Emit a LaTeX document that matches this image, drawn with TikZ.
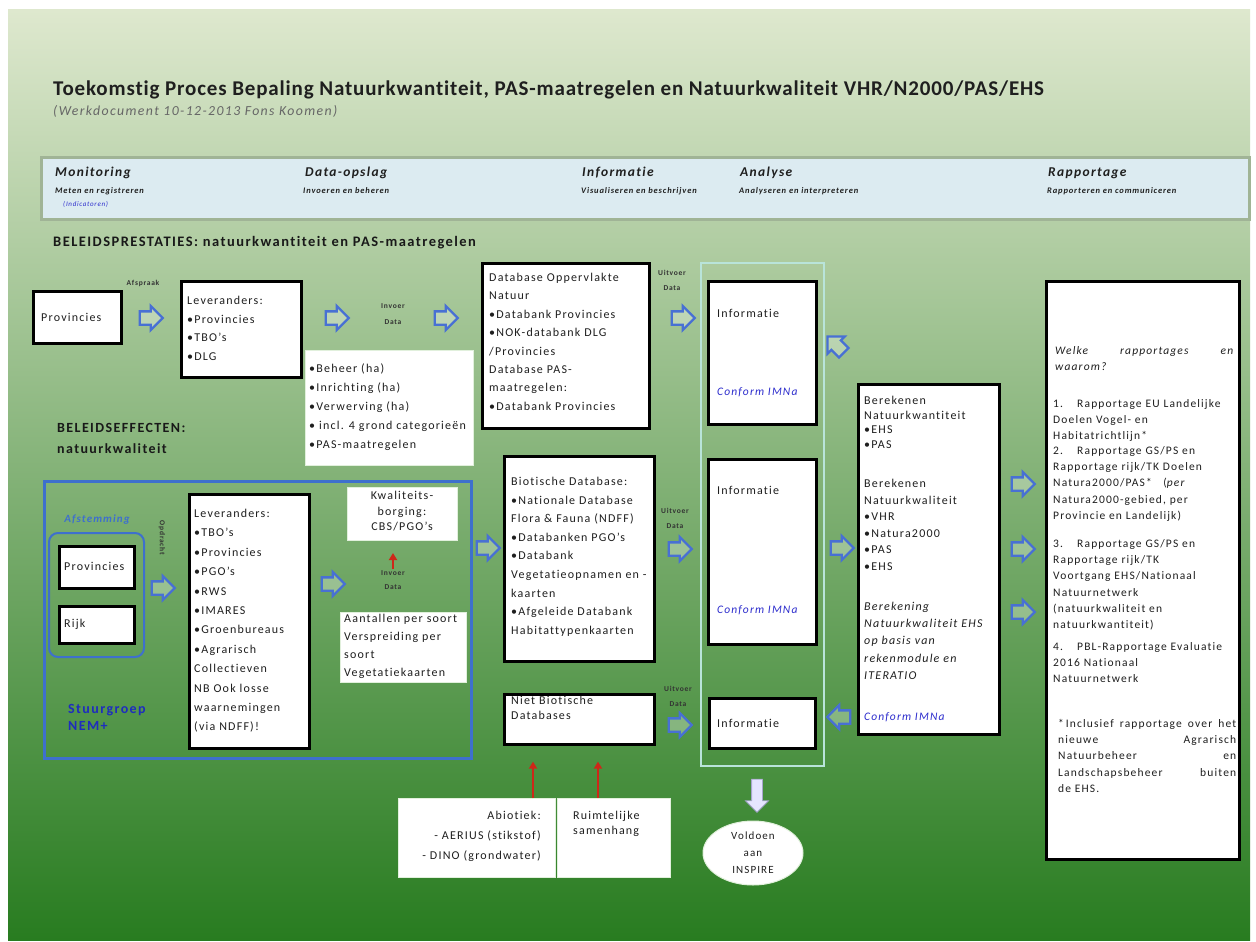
\documentclass[tikz,border=0pt]{standalone}
\usepackage{fontspec}
\setmainfont{Carlito}[LetterSpace=10,Ligatures=NoCommon]
\newfontfamily\titlefont{Carlito}[LetterSpace=4,Ligatures=NoCommon]
\usetikzlibrary{shapes.arrows,shapes.geometric,arrows.meta,calc}
\definecolor{bgtop}{RGB}{222,232,206}
\definecolor{bgmid}{RGB}{142,182,98}
\definecolor{bgbot}{RGB}{40,124,32}
\definecolor{hdrfill}{RGB}{220,235,241}
\definecolor{hdrdraw}{RGB}{160,180,150}
\definecolor{arblue}{RGB}{72,112,212}
\definecolor{frameblue}{RGB}{62,112,205}
\definecolor{confblue}{RGB}{45,45,205}
\definecolor{stblue}{RGB}{30,45,190}
\definecolor{colframe}{RGB}{185,228,218}
\definecolor{redar}{RGB}{205,40,25}
\definecolor{pale}{RGB}{225,240,220}
\begin{document}
\begin{tikzpicture}[x=1pt,y=-1pt,
  box/.style={draw=black, line width=2.6pt, fill=white, anchor=north west, inner sep=0pt},
  wbox/.style={draw=pale, line width=1pt, fill=white, anchor=north west, inner sep=0pt},
  txt/.style={anchor=north west, align=left, inner sep=0pt, text=black!88, font=\fontsize{12}{19}\selectfont},
  conf/.style={anchor=west, inner sep=0pt, text=confblue, font=\itshape\fontsize{11.5}{14}\selectfont},
  lbl/.style={inner sep=0pt, align=center, text=black!80, font=\bfseries\fontsize{7.5}{15}\selectfont},
  hd/.style={anchor=west, inner sep=0pt, text=black!88, font=\bfseries\itshape\fontsize{13.5}{15}\selectfont},
  hs/.style={anchor=west, inner sep=0pt, text=black!88, font=\bfseries\itshape\fontsize{8.5}{10}\selectfont},
  barrow/.style={single arrow, draw=arblue, line width=2.3pt, fill=white, fill opacity=0.3, draw opacity=1, inner sep=5.5pt, minimum height=23pt, single arrow head extend=5.5pt},
  darrow/.style={single arrow, draw=white!75!blue!60!gray, fill=white!90!blue, line width=0.8pt, inner sep=5pt, minimum height=33pt, single arrow head extend=6pt, rotate=-90},
  redarrow/.style={draw=redar, line width=2.6pt, -{Triangle[length=7pt,width=8pt]}},
  rap/.style={anchor=north west, inner sep=0pt, text=black!88, text width=178pt, font=\fontsize{11.5}{16.3}\selectfont}
]
\useasboundingbox (0,0) rectangle (1256,942);
\fill[white] (0,0) rectangle (1256,942);
\shade[top color=bgtop, middle color=bgmid, bottom color=bgbot] (8,10) rectangle (1250,940);

% title
\node[anchor=west, inner sep=0pt, text=black!88, font=\titlefont\bfseries\fontsize{21}{24}\selectfont] (title) at (53,90) {Toekomstig Proces Bepaling Natuurkwantiteit, PAS-maatregelen en Natuurkwaliteit VHR/N2000/PAS/EHS};
\node[anchor=west, inner sep=0pt, text=black!60, font=\itshape\fontsize{13.8}{15}\selectfont] (subtitle) at (53,111) {(Werkdocument 10-12-2013 Fons Koomen)};

% header band
\node[draw=hdrdraw, fill=hdrfill, line width=3pt, anchor=north west, minimum width=1208pt, minimum height=62pt, inner sep=0pt] (hdr) at (40,156) {};
\node[hd] (h1) at (55,173) {Monitoring};
\node[hs] (h1s) at (55,191) {Meten en registreren};
\node[hs, text=confblue, font=\itshape\fontsize{7}{8}\selectfont] (h1i) at (63,204) {(Indicatoren)};
\node[hd] (h2) at (305,173) {Data-opslag};
\node[hs] (h2s) at (303,191) {Invoeren en beheren};
\node[hd] (h3) at (582,173) {Informatie};
\node[hs] (h3s) at (581,191) {Visualiseren en beschrijven};
\node[hd] (h4) at (740,173) {Analyse};
\node[hs] (h4s) at (739,191) {Analyseren en interpreteren};
\node[hd] (h5) at (1048,173) {Rapportage};
\node[hs] (h5s) at (1047,191) {Rapporteren en communiceren};

\node[anchor=west, inner sep=0pt, text=black!90, font=\bfseries\fontsize{14.5}{16}\selectfont] (bp) at (53,243) {BELEIDSPRESTATIES: natuurkwantiteit en PAS-maatregelen};

% row 1
\node[box, minimum width=88pt, minimum height=52pt] (prov1) at (32,290) {};
\node[txt, anchor=west] (prov1t) at (41,317) {Provincies};
\node[lbl] (afspraak) at (143,283) {Afspraak};
\node[barrow] (a1) at (148,318) {};
\node[box, minimum width=120pt, minimum height=96pt] (lev1) at (180,280) {};
\node[txt, font=\fontsize{12}{18.7}\selectfont] (lev1t) at (187,296) {Leveranders:\\•Provincies\\•TBO's\\•DLG};
\node[barrow] (a2) at (334,318) {};
\node[lbl, font=\bfseries\fontsize{7.5}{16}\selectfont] (invoer1) at (393,314) {Invoer\\Data};
\node[barrow] (a3) at (443,318) {};
\node[wbox, minimum width=168pt, minimum height=115pt] (beh) at (305,350) {};
\node[txt] (beht) at (309,364) {•Beheer (ha)\\•Inrichting (ha)\\•Verwerving (ha)\\• incl. 4 grond categorieën\\•PAS-maatregelen};

\node[box, minimum width=167pt, minimum height=165pt] (dbo) at (481,262) {};
\node[txt, font=\fontsize{12}{18.4}\selectfont] (dbot) at (489,273) {Database Oppervlakte\\Natuur\\•Databank Provincies\\•NOK-databank DLG\\/Provincies\\Database PAS-\\maatregelen:\\•Databank Provincies};
\node[lbl] (uit1) at (672,280) {Uitvoer\\Data};
\node[barrow] (a4) at (680,318) {};

\node[draw=colframe, line width=2pt, anchor=north west, minimum width=123pt, minimum height=503pt, inner sep=0pt] (col) at (700,262) {};
\node[box, minimum width=108pt, minimum height=143pt] (inf1) at (707,280) {};
\node[txt, anchor=west] (inf1t) at (717,313) {Informatie};
\node[conf] (inf1c) at (717,392) {Conform IMNa};
\node[barrow, rotate=135] (a5) at (838,347) {};

% row 2
\node[txt, font=\bfseries\fontsize{14}{21}\selectfont, text=black!90] (be) at (57,423) {BELEIDSEFFECTEN:\\natuurkwaliteit};
\node[draw=frameblue, line width=2.5pt, anchor=north west, minimum width=427pt, minimum height=277pt, inner sep=0pt] (nem) at (43,480) {};
\node[inner sep=0pt, text=frameblue, font=\bfseries\itshape\fontsize{11}{13}\selectfont] (afst) at (97,520) {Afstemming};
\node[draw=frameblue, line width=2pt, rounded corners=9pt, anchor=north west, minimum width=95pt, minimum height=124pt, inner sep=0pt] (afbox) at (48,532) {};
\node[box, minimum width=75pt, minimum height=42pt] (prov2) at (58,545) {};
\node[txt, anchor=west] (prov2t) at (64,566) {Provincies};
\node[box, minimum width=75pt, minimum height=37pt] (rijk) at (58,605) {};
\node[txt, anchor=west] (rijkt) at (64,624) {Rijk};
\node[lbl, rotate=-90] (opdr) at (162,538) {Opdracht};
\node[barrow] (a6) at (160,588) {};
\node[box, minimum width=120pt, minimum height=254pt] (lev2) at (188,493) {};
\node[txt, font=\fontsize{12}{19.4}\selectfont] (lev2t) at (194,509) {Leveranders:\\•TBO's\\•Provincies\\•PGO's\\•RWS\\•IMARES\\•Groenbureaus\\•Agrarisch\\Collectieven\\NB Ook losse\\waarnemingen\\(via NDFF)!};
\node[barrow] (a7) at (330,584) {};
\node[wbox, minimum width=110pt, minimum height=53pt] (kwal) at (347,487) {};
\node[txt, anchor=north, align=center, font=\fontsize{12}{15.5}\selectfont] (kwalt) at (402,491) {Kwaliteits-\\borging:\\CBS/PGO's};
\node[lbl, font=\bfseries\fontsize{7.5}{14}\selectfont] (invoer2) at (393,580) {Invoer\\Data};
\draw[redarrow, line width=2.2pt, shorten >=12pt, shorten <=1pt] (invoer2.north) -- (invoer2.north |- kwal.south);
\node[wbox, minimum width=126pt, minimum height=70pt] (aant) at (340,612) {};
\node[txt, font=\fontsize{12}{18}\selectfont] (aantt) at (344,614) {Aantallen per soort\\Verspreiding per\\soort\\Vegetatiekaarten};
\node[txt, text=stblue, font=\bfseries\fontsize{14}{17}\selectfont] (stuur) at (68,704) {Stuurgroep\\NEM+};

\node[barrow] (a8) at (485,548) {};
\node[box, minimum width=150pt, minimum height=205pt] (bio) at (503,455) {};
\node[txt, font=\fontsize{12}{18.6}\selectfont] (biot) at (511,477) {Biotische Database:\\•Nationale Database\\Flora \& Fauna (NDFF)\\•Databanken PGO's\\•Databank\\Vegetatieopnamen en -\\kaarten\\•Afgeleide Databank\\Habitattypenkaarten};
\node[lbl] (uit2) at (675,518) {Uitvoer\\Data};
\node[barrow] (a9) at (677,549) {};
\node[box, minimum width=108pt, minimum height=185pt] (inf2) at (707,458) {};
\node[txt, anchor=west] (inf2t) at (717,490) {Informatie};
\node[conf] (inf2c) at (717,610) {Conform IMNa};
\node[barrow] (a10) at (839,548) {};

\node[box, minimum width=150pt, minimum height=50pt] (nbio) at (503,693) {};
\node[txt, font=\fontsize{12}{15}\selectfont] (nbiot) at (511,696) {Niet Biotische\\Databases};
\node[lbl] (uit3) at (678,696) {Uitvoer\\Data};
\node[barrow] (a11) at (677,725) {};
\node[box, minimum width=106pt, minimum height=50pt] (inf3) at (708,697) {};
\node[txt, anchor=west] (inf3t) at (717,723) {Informatie};
\node[barrow, rotate=180] (a12) at (842,717) {};

% Berekenen
\node[box, minimum width=141pt, minimum height=350pt] (ber) at (857,383) {};
\node[txt, font=\fontsize{12}{14.5}\selectfont] (ber1) at (864,396) {Berekenen\\Natuurkwantiteit\\•EHS\\•PAS};
\node[txt, font=\fontsize{12}{16.6}\selectfont] (ber2) at (864,479) {Berekenen\\Natuurkwaliteit\\•VHR\\•Natura2000\\•PAS\\•EHS};
\node[txt, font=\itshape\fontsize{12}{17.2}\selectfont] (ber3) at (864,602) {Berekening\\Natuurkwaliteit EHS\\op basis van\\rekenmodule en\\ITERATIO};
\node[conf] (berc) at (864,717) {Conform IMNa};
\node[barrow] (a13) at (1020,484) {};
\node[barrow] (a14) at (1020,549) {};
\node[barrow] (a15) at (1020,612) {};

% Rapportage
\node[box, minimum width=193pt, minimum height=578pt] (rap) at (1045,280) {};
\node[rap, align=justify] (rap0) at (1055,346) {\hangindent=22pt\hangafter=1\noindent\textit{Welke rapportages en\linebreak waarom?}};
\node[rap, align=left] (rap1) at (1053,399) {\hangindent=24pt\hangafter=1\noindent\makebox[24pt][l]{1.}Rapportage EU Landelijke\\Doelen Vogel- en\\Habitatrichtlijn*};
\node[rap, align=left] (rap2) at (1053,446) {\hangindent=24pt\hangafter=1\noindent\makebox[24pt][l]{2.}Rapportage GS/PS en\\Rapportage rijk/TK Doelen\\Natura2000/PAS* \ \ (\textit{per}\\Natura2000-gebied, per\\Provincie en Landelijk)};
\node[rap, align=left] (rap3) at (1053,539) {\hangindent=24pt\hangafter=1\noindent\makebox[24pt][l]{3.}Rapportage GS/PS en\\Rapportage rijk/TK\\Voortgang EHS/Nationaal\\Natuurnetwerk\\(natuurkwaliteit en\\natuurkwantiteit)};
\node[rap, align=left] (rap4) at (1053,642) {\hangindent=24pt\hangafter=1\noindent\makebox[24pt][l]{4.}PBL-Rapportage Evaluatie\\2016 Nationaal\\Natuurnetwerk};
\node[rap, align=justify] (rap5) at (1058,719) {\hangindent=19pt\hangafter=1\noindent *\,Inclusief rapportage over het\linebreak nieuwe Agrarisch\linebreak Natuurbeheer en\linebreak Landschapsbeheer buiten\linebreak de EHS.};

% bottom
\node[wbox, minimum width=157pt, minimum height=79pt] (abio) at (398,798) {};
\node[txt, anchor=north east, align=right, font=\fontsize{12}{20}\selectfont] (abiot) at (541,811) {Abiotiek:\\- AERIUS (stikstof)\\- DINO (grondwater)};
\node[wbox, minimum width=113pt, minimum height=79pt] (ruim) at (557,798) {};
\node[txt, font=\fontsize{12}{15}\selectfont] (ruimt) at (573,811) {Ruimtelijke\\samenhang};
\coordinate (r1) at (533,790);
\coordinate (r2) at (598,790);
\draw[redarrow, shorten >=16pt] (abio.north -| r1) -- (nbio.south -| r1);
\draw[redarrow, shorten >=16pt] (ruim.north -| r2) -- (nbio.south -| r2);
\node[darrow] (dwn) at (757,793) {};
\node[ellipse, draw=pale, fill=white, line width=1pt, minimum width=100pt, minimum height=64pt, inner sep=0pt, align=center, text=black!88, font=\fontsize{11}{17}\selectfont] (insp) at (753,853) {Voldoen\\aan\\INSPIRE};
\end{tikzpicture}
\end{document}
